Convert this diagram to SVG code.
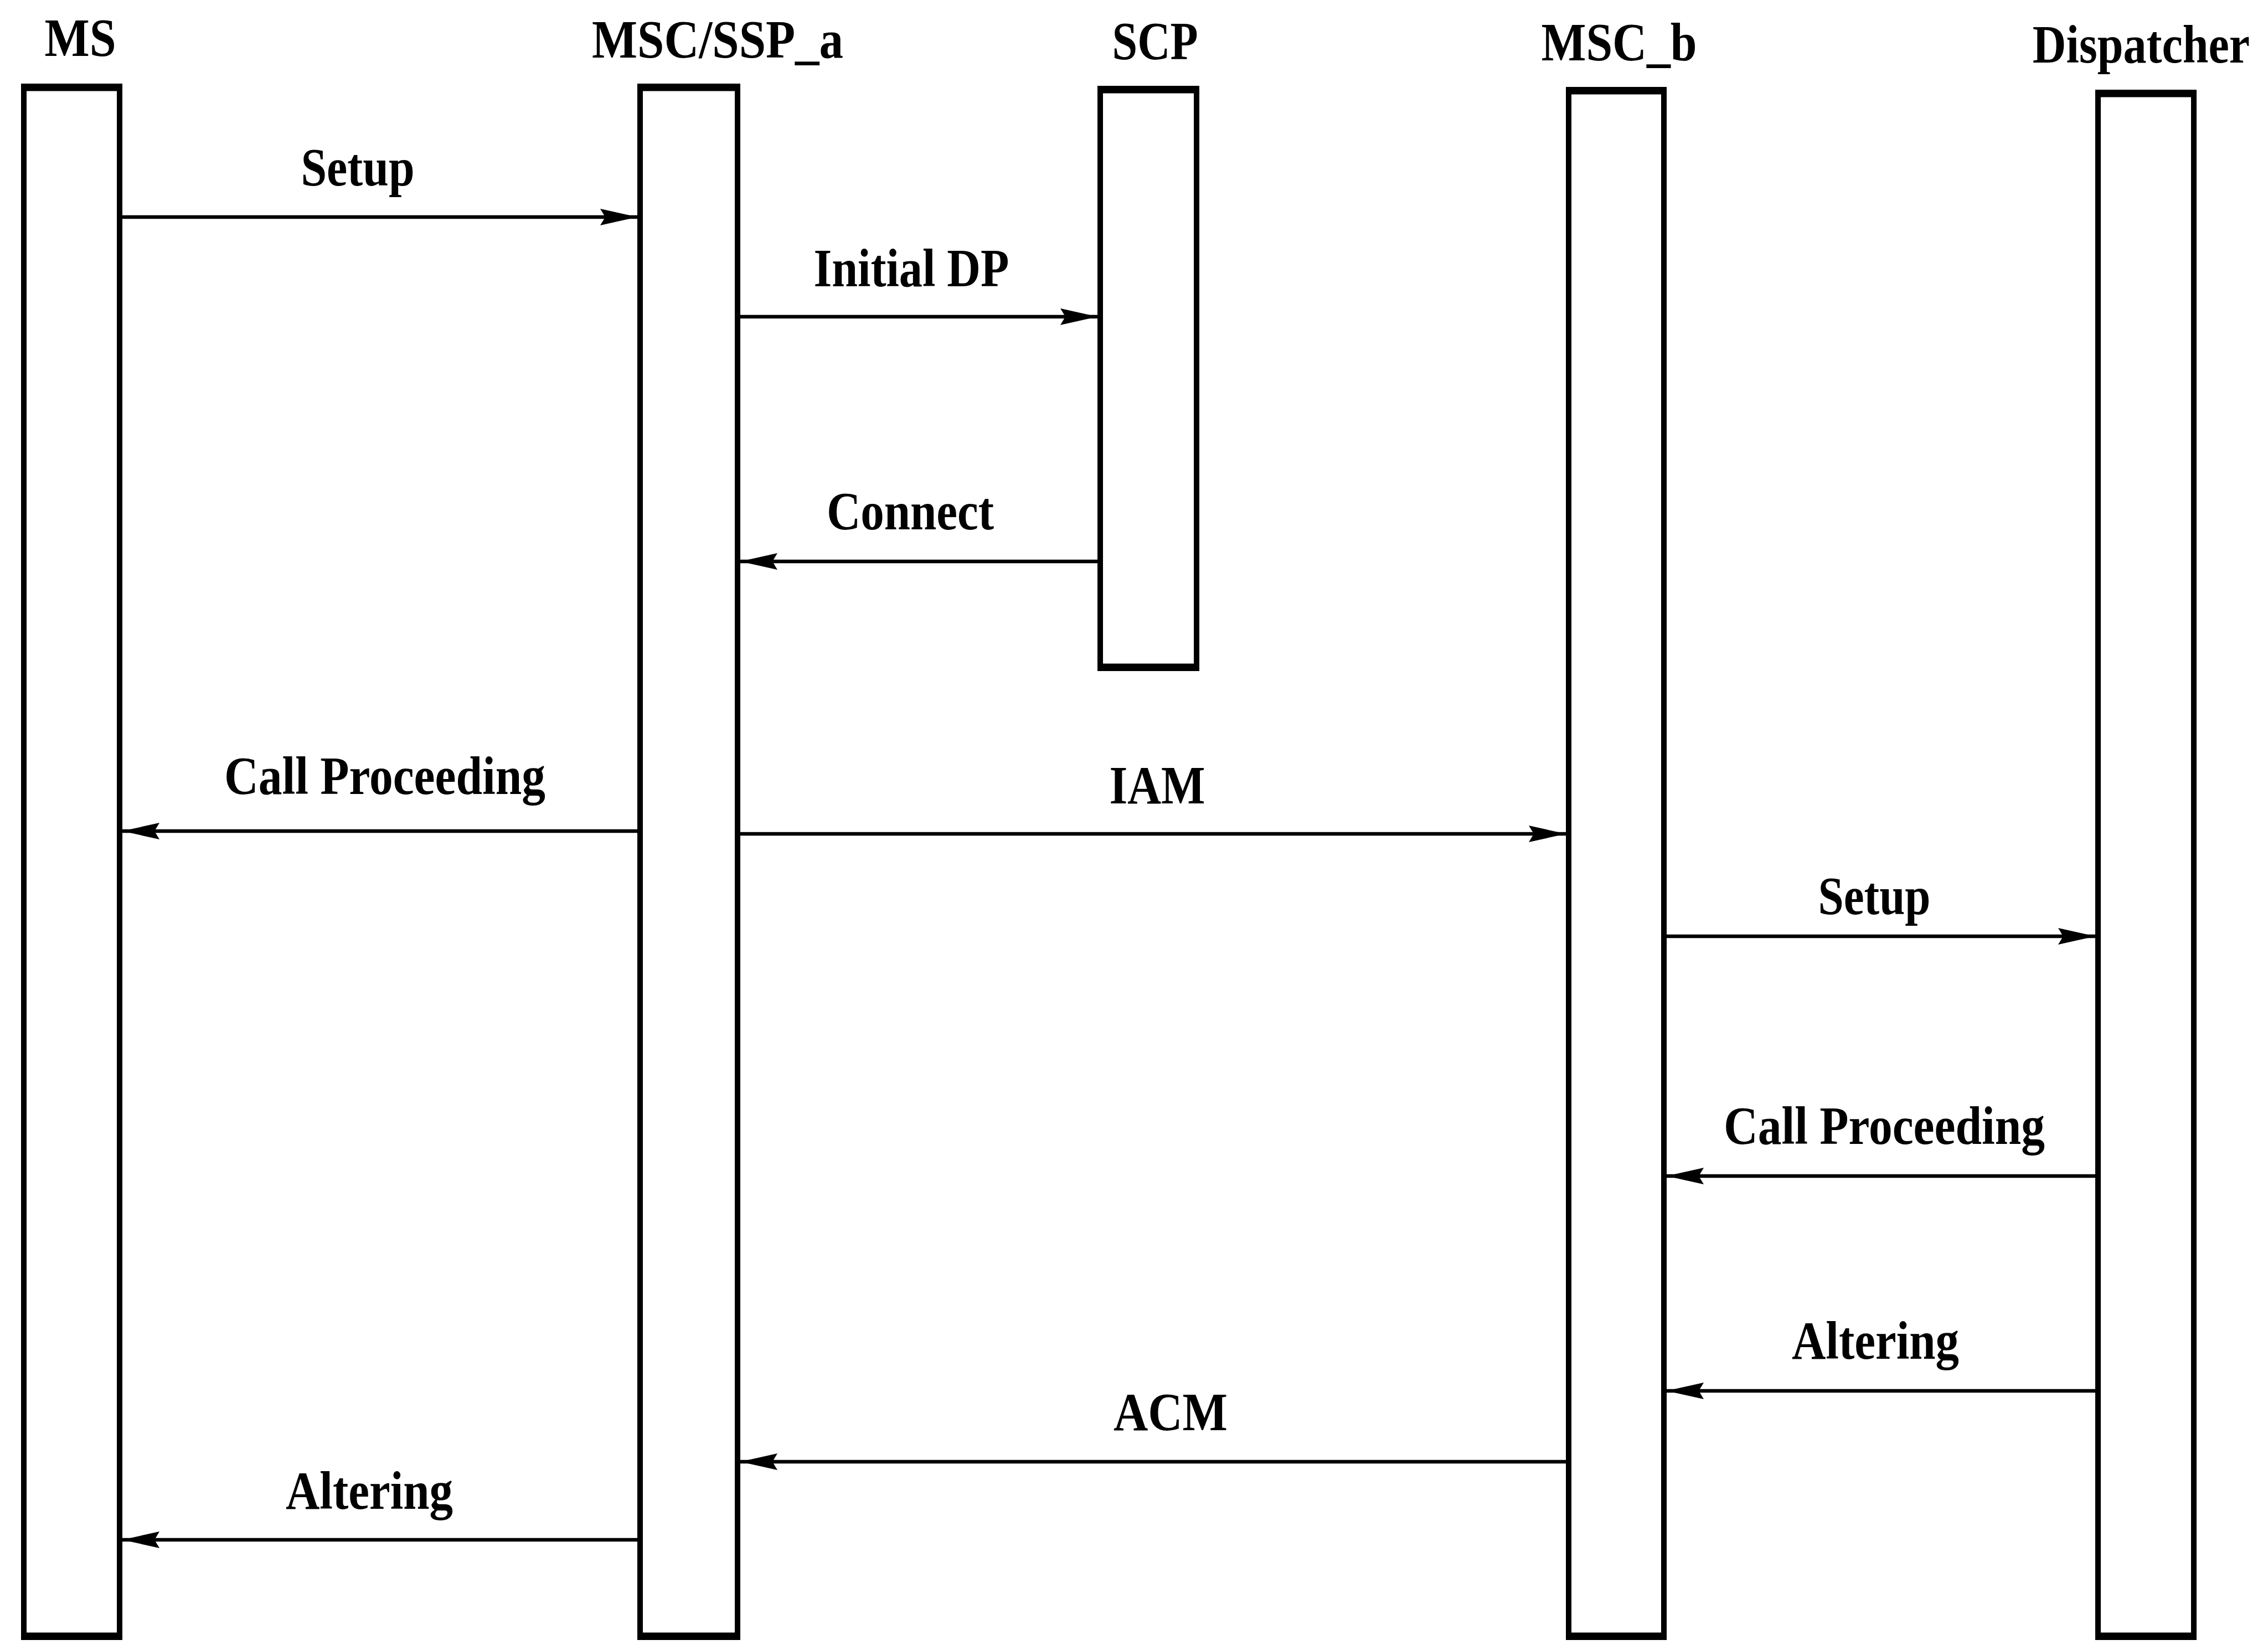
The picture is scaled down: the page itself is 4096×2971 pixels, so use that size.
<svg xmlns="http://www.w3.org/2000/svg" width="4096" height="2971" viewBox="0 0 4096 2971">
<style>
.box{fill:#fff;stroke:#000;stroke-width:10}
.edge{stroke:#000;stroke-width:13;stroke-linecap:butt}
.msg{stroke:#000;stroke-width:6.5;fill:none}
.lbl{font-family:"Liberation Serif","Times New Roman",serif;font-weight:bold;font-size:98px;fill:#000;text-anchor:middle}
</style>
<defs>
<marker id="ah" markerUnits="userSpaceOnUse" markerWidth="70" markerHeight="32" refX="67" refY="15" orient="auto" viewBox="0 0 70 32">
<path d="M0,0 L67,15 L0,30 L9,15 Z" fill="#000"/>
</marker>
</defs>
<rect width="4096" height="2971" fill="#fff"/>
<g id="node-ms">
<rect class="box" x="43" y="156" width="173" height="2801"/>
<line class="edge" x1="40" y1="158" x2="219" y2="158"/>
<line class="edge" x1="40" y1="2955" x2="219" y2="2955"/>
<text class="lbl" x="145" y="101" textLength="129" lengthAdjust="spacingAndGlyphs">MS</text>
</g>
<g id="node-msc-ssp-a">
<rect class="box" x="1156" y="156" width="176" height="2801"/>
<line class="edge" x1="1153" y1="158" x2="1335" y2="158"/>
<line class="edge" x1="1153" y1="2955" x2="1335" y2="2955"/>
<text class="lbl" x="1296" y="104" textLength="454" lengthAdjust="spacingAndGlyphs">MSC/SSP_a</text>
</g>
<g id="node-scp">
<rect class="box" x="1987" y="160" width="174" height="1047"/>
<line class="edge" x1="1984" y1="162" x2="2164" y2="162"/>
<line class="edge" x1="1984" y1="1205" x2="2164" y2="1205"/>
<text class="lbl" x="2086" y="107" textLength="155" lengthAdjust="spacingAndGlyphs">SCP</text>
</g>
<g id="node-msc-b">
<rect class="box" x="2833" y="162" width="172" height="2795"/>
<line class="edge" x1="2830" y1="164" x2="3008" y2="164"/>
<line class="edge" x1="2830" y1="2955" x2="3008" y2="2955"/>
<text class="lbl" x="2924" y="109" textLength="281" lengthAdjust="spacingAndGlyphs">MSC_b</text>
</g>
<g id="node-dispatcher">
<rect class="box" x="3789" y="167" width="173" height="2790"/>
<line class="edge" x1="3786" y1="169" x2="3965" y2="169"/>
<line class="edge" x1="3786" y1="2955" x2="3965" y2="2955"/>
<text class="lbl" transform="translate(3867,113) scale(0.858,1)" x="0" y="0">Dispatcher</text>
</g>
<g id="connectors">
<line class="msg" x1="221" y1="392" x2="1151" y2="392" marker-end="url(#ah)"/>
<text class="lbl" x="646" y="335" textLength="205" lengthAdjust="spacingAndGlyphs">Setup</text>
<line class="msg" x1="1337" y1="572" x2="1982" y2="572" marker-end="url(#ah)"/>
<text class="lbl" x="1646" y="517" textLength="353" lengthAdjust="spacingAndGlyphs">Initial DP</text>
<line class="msg" x1="1982" y1="1014" x2="1337" y2="1014" marker-end="url(#ah)"/>
<text class="lbl" x="1644" y="956" textLength="302" lengthAdjust="spacingAndGlyphs">Connect</text>
<line class="msg" x1="1151" y1="1501" x2="221" y2="1501" marker-end="url(#ah)"/>
<text class="lbl" x="695" y="1434" textLength="580" lengthAdjust="spacingAndGlyphs">Call Proceeding</text>
<line class="msg" x1="1337" y1="1506" x2="2828" y2="1506" marker-end="url(#ah)"/>
<text class="lbl" x="2090" y="1451" textLength="173" lengthAdjust="spacingAndGlyphs">IAM</text>
<line class="msg" x1="3010" y1="1691" x2="3784" y2="1691" marker-end="url(#ah)"/>
<text class="lbl" x="3385" y="1651" textLength="203" lengthAdjust="spacingAndGlyphs">Setup</text>
<line class="msg" x1="3784" y1="2124" x2="3010" y2="2124" marker-end="url(#ah)"/>
<text class="lbl" x="3403" y="2066" textLength="580" lengthAdjust="spacingAndGlyphs">Call Proceeding</text>
<line class="msg" x1="3784" y1="2512" x2="3010" y2="2512" marker-end="url(#ah)"/>
<text class="lbl" x="3387" y="2454" textLength="302" lengthAdjust="spacingAndGlyphs">Altering</text>
<line class="msg" x1="2828" y1="2640" x2="1337" y2="2640" marker-end="url(#ah)"/>
<text class="lbl" x="2114" y="2583" textLength="206" lengthAdjust="spacingAndGlyphs">ACM</text>
<line class="msg" x1="1151" y1="2781" x2="221" y2="2781" marker-end="url(#ah)"/>
<text class="lbl" x="667" y="2725" textLength="302" lengthAdjust="spacingAndGlyphs">Altering</text>
</g>
</svg>
